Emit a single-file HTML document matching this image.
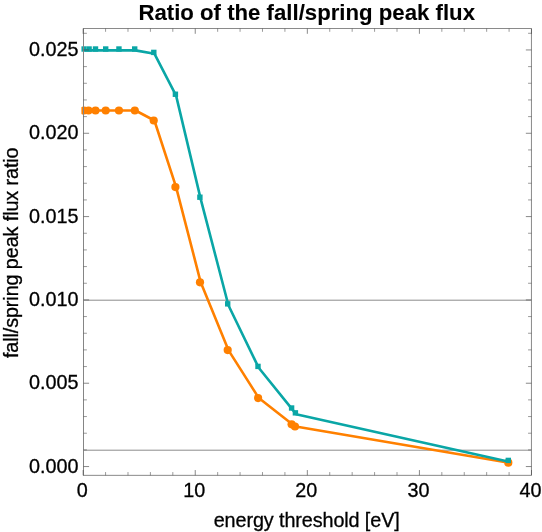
<!DOCTYPE html>
<html><head><meta charset="utf-8"><style>
html,body{margin:0;padding:0;background:#fff}
body{width:542px;height:532px;position:relative;overflow:hidden;font-family:"Liberation Sans",sans-serif;color:#000}
#L{position:absolute;left:0;top:0;width:542px;height:532px;will-change:transform}
.t{position:absolute;left:0;top:0;white-space:nowrap;line-height:1;font-size:19.8px;transform-origin:0 0;-webkit-text-stroke:0.3px #000}
</style></head><body>
<svg width="542" height="532" viewBox="0 0 542 532" style="position:absolute;left:0;top:0"><defs><clipPath id="c"><rect x="81.4" y="25.5" width="453.95000000000005" height="452.85"/></clipPath></defs><line x1="83.5" x2="531.45" y1="300.2" y2="300.2" stroke="#8c8c8c" stroke-width="1"/><line x1="83.5" x2="531.45" y1="450.2" y2="450.2" stroke="#8c8c8c" stroke-width="1"/><g clip-path="url(#c)"><polyline points="84.6,110.5 89.2,110.5 96.2,110.5 106.4,110.5 119.65,110.5 135.5,110.5 154.4,120.5 176.1,187.1 200.7,282.3 228.4,350.1 258.8,398.1 292.3,424.3 295.7,426.5 509.0,462.7" fill="none" stroke="#ff8000" stroke-width="2.6" stroke-linejoin="round"/><circle cx="83.9" cy="110.5" r="4.1" fill="#ff8000"/><circle cx="88.5" cy="110.5" r="4.1" fill="#ff8000"/><circle cx="95.5" cy="110.5" r="4.1" fill="#ff8000"/><circle cx="105.7" cy="110.5" r="4.1" fill="#ff8000"/><circle cx="118.95" cy="110.5" r="4.1" fill="#ff8000"/><circle cx="134.8" cy="110.5" r="4.1" fill="#ff8000"/><circle cx="153.7" cy="120.5" r="4.1" fill="#ff8000"/><circle cx="175.4" cy="187.1" r="4.1" fill="#ff8000"/><circle cx="200.0" cy="282.3" r="4.1" fill="#ff8000"/><circle cx="227.7" cy="350.1" r="4.1" fill="#ff8000"/><circle cx="258.1" cy="398.1" r="4.1" fill="#ff8000"/><circle cx="291.6" cy="424.3" r="4.1" fill="#ff8000"/><circle cx="295.0" cy="426.5" r="4.1" fill="#ff8000"/><circle cx="508.3" cy="462.7" r="4.1" fill="#ff8000"/><polyline points="84.5,50.4 89.8,50.4 96.2,50.4 106.4,50.4 119.65,50.4 135.4,50.4 154.5,53.8 176.1,95.65 200.6,198.6 228.4,305.25 258.7,367.8 292.3,409.4 296.1,414.25 509.0,461.8" fill="none" stroke="#0aa6a6" stroke-width="2.6" stroke-linejoin="round"/><rect x="81.10" y="46.30" width="5.4" height="5.4" fill="#0aa6a6"/><rect x="86.40" y="46.30" width="5.4" height="5.4" fill="#0aa6a6"/><rect x="92.80" y="46.30" width="5.4" height="5.4" fill="#0aa6a6"/><rect x="103.00" y="46.30" width="5.4" height="5.4" fill="#0aa6a6"/><rect x="116.25" y="46.30" width="5.4" height="5.4" fill="#0aa6a6"/><rect x="132.00" y="46.30" width="5.4" height="5.4" fill="#0aa6a6"/><rect x="151.10" y="49.70" width="5.4" height="5.4" fill="#0aa6a6"/><rect x="172.70" y="91.55" width="5.4" height="5.4" fill="#0aa6a6"/><rect x="197.20" y="194.50" width="5.4" height="5.4" fill="#0aa6a6"/><rect x="225.00" y="301.15" width="5.4" height="5.4" fill="#0aa6a6"/><rect x="255.30" y="363.70" width="5.4" height="5.4" fill="#0aa6a6"/><rect x="288.90" y="405.30" width="5.4" height="5.4" fill="#0aa6a6"/><rect x="292.70" y="410.15" width="5.4" height="5.4" fill="#0aa6a6"/><rect x="505.60" y="457.70" width="5.4" height="5.4" fill="#0aa6a6"/></g><path d="M83.5 28.5H531.45V475.35H83.5" fill="none" stroke="#8a8a8a" stroke-width="1"/><path d="M83.5 28.0V475.85" fill="none" stroke="#858585" stroke-width="1"/><path d="M105.57 475.35v-3.3M105.57 28.5v3.3M127.99 475.35v-3.3M127.99 28.5v3.3M150.40 475.35v-3.3M150.40 28.5v3.3M172.82 475.35v-3.3M172.82 28.5v3.3M217.66 475.35v-3.3M217.66 28.5v3.3M240.07 475.35v-3.3M240.07 28.5v3.3M262.49 475.35v-3.3M262.49 28.5v3.3M284.91 475.35v-3.3M284.91 28.5v3.3M329.74 475.35v-3.3M329.74 28.5v3.3M352.16 475.35v-3.3M352.16 28.5v3.3M374.58 475.35v-3.3M374.58 28.5v3.3M397.00 475.35v-3.3M397.00 28.5v3.3M441.83 475.35v-3.3M441.83 28.5v3.3M464.25 475.35v-3.3M464.25 28.5v3.3M486.66 475.35v-3.3M486.66 28.5v3.3M509.08 475.35v-3.3M509.08 28.5v3.3M83.5 449.89h3.4M531.45 449.89h-3.4M83.5 433.22h3.4M531.45 433.22h-3.4M83.5 416.56h3.4M531.45 416.56h-3.4M83.5 399.89h3.4M531.45 399.89h-3.4M83.5 366.57h3.4M531.45 366.57h-3.4M83.5 349.90h3.4M531.45 349.90h-3.4M83.5 333.24h3.4M531.45 333.24h-3.4M83.5 316.57h3.4M531.45 316.57h-3.4M83.5 283.25h3.4M531.45 283.25h-3.4M83.5 266.58h3.4M531.45 266.58h-3.4M83.5 249.92h3.4M531.45 249.92h-3.4M83.5 233.25h3.4M531.45 233.25h-3.4M83.5 199.93h3.4M531.45 199.93h-3.4M83.5 183.26h3.4M531.45 183.26h-3.4M83.5 166.60h3.4M531.45 166.60h-3.4M83.5 149.93h3.4M531.45 149.93h-3.4M83.5 116.61h3.4M531.45 116.61h-3.4M83.5 99.94h3.4M531.45 99.94h-3.4M83.5 83.28h3.4M531.45 83.28h-3.4M83.5 66.61h3.4M531.45 66.61h-3.4M83.5 33.29h3.4M531.45 33.29h-3.4" stroke="#484848" stroke-width="0.55" fill="none"/><path d="M83.15 475.35v-5.3M83.15 28.5v5.3M195.24 475.35v-5.3M195.24 28.5v5.3M307.33 475.35v-5.3M307.33 28.5v5.3M419.41 475.35v-5.3M419.41 28.5v5.3M531.50 475.35v-5.3M531.50 28.5v5.3M83.5 466.55h5.6M531.45 466.55h-5.6M83.5 383.23h5.6M531.45 383.23h-5.6M83.5 299.91h5.6M531.45 299.91h-5.6M83.5 216.59h5.6M531.45 216.59h-5.6M83.5 133.27h5.6M531.45 133.27h-5.6M83.5 49.95h5.6M531.45 49.95h-5.6" stroke="#484848" stroke-width="0.65" fill="none"/></svg>
<div id="L">
<div class="t" style="transform:translate(306.7px,1.8px) translate(-50%,0) rotate(0.01deg);font-size:22.2px;font-weight:bold;-webkit-text-stroke:0.1px #000">Ratio of the fall/spring peak flux</div>
<div class="t" style="transform:translate(78.5px,456.50px) translate(-100%,0) rotate(0.01deg)">0.000</div>
<div class="t" style="transform:translate(78.5px,373.18px) translate(-100%,0) rotate(0.01deg)">0.005</div>
<div class="t" style="transform:translate(78.5px,289.86px) translate(-100%,0) rotate(0.01deg)">0.010</div>
<div class="t" style="transform:translate(78.5px,206.54px) translate(-100%,0) rotate(0.01deg)">0.015</div>
<div class="t" style="transform:translate(78.5px,123.22px) translate(-100%,0) rotate(0.01deg)">0.020</div>
<div class="t" style="transform:translate(78.5px,39.90px) translate(-100%,0) rotate(0.01deg)">0.025</div>
<div class="t" style="transform:translate(82.15px,480.7px) translate(-50%,0) rotate(0.01deg)">0</div>
<div class="t" style="transform:translate(194.24px,480.7px) translate(-50%,0) rotate(0.01deg)">10</div>
<div class="t" style="transform:translate(306.33px,480.7px) translate(-50%,0) rotate(0.01deg)">20</div>
<div class="t" style="transform:translate(418.41px,480.7px) translate(-50%,0) rotate(0.01deg)">30</div>
<div class="t" style="transform:translate(530.50px,480.7px) translate(-50%,0) rotate(0.01deg)">40</div>
<div class="t" style="transform:translate(306.7px,511.3px) translate(-50%,0) rotate(0.01deg);letter-spacing:-0.1px">energy threshold [eV]</div>
<div class="t" style="transform:translate(11.6px,252.8px) rotate(-89.99deg) translate(-50%,-50%);letter-spacing:-0.1px">fall/spring peak flux ratio</div>
</div>
</body></html>
